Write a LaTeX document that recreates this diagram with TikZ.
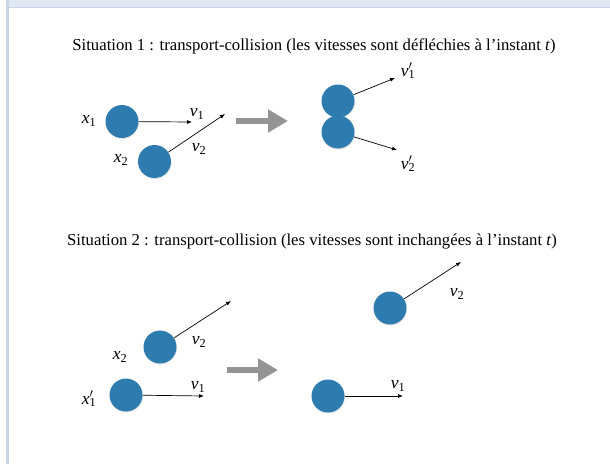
\documentclass[tikz,border=0pt]{standalone}
\usepackage{fontspec}
\setmainfont{Liberation Serif}
\usepackage{tikz}
\usetikzlibrary{arrows.meta,shadows}
\definecolor{ballblue}{HTML}{2E7BB0}
\definecolor{frameband}{HTML}{E1E7F1}
\definecolor{framestrip}{HTML}{C9D3E8}
\newcommand{\vlab}[1]{\textit{v}\textsubscript{#1}}
\newcommand{\vplab}[1]{\textit{v}\rlap{$'$}\textsubscript{#1}}
\newcommand{\xlab}[1]{\textit{x}\textsubscript{#1}}

\begin{document}
\begin{tikzpicture}[x=1pt, y=-1pt, line width=0.7pt,
  ball/.style={circle, fill=ballblue, minimum size=33pt, inner sep=0pt,
    drop shadow={opacity=0.18, shadow xshift=0.6pt, shadow yshift=-1.2pt}},
  lab/.style={font=\fontsize{17.5}{19}\selectfont, inner sep=0pt},
  titre/.style={font=\fontsize{16.7}{19}\selectfont, inner sep=0pt},
  vel/.style={-{Latex[length=5pt, width=4pt]}, black},
  bigarr/.style={line width=6pt, color=black!42, -{Triangle[length=20pt, width=22pt]}}]
\useasboundingbox (0,0) rectangle (610,464);
% ---- frame
\fill[frameband] (9,0) rectangle (610,7);
\fill[framestrip] (6,0) rectangle (9,464);
\draw[framestrip, line width=0.8pt] (9,7) -- (610,7);
% ---- situation 1
\node[titre] (t1) at (314,46) {Situation 1 : transport-collision (les vitesses sont défléchies à l’instant \textit{t})};
\node[ball] (b1) at (122,121.5) {};
\node[ball] (b2) at (154.5,161.5) {};
\coordinate (b1tip) at (192,122);
\coordinate (b2tip) at (225,114);
\draw[vel] (b1) -- (b1tip);
\draw[vel] (b2) -- (b2tip);
\node[lab] (lx1) at (89,121) {\xlab{1}};
\node[lab] (lx2) at (121,160) {\xlab{2}};
\node[lab] (lv1) at (197,114) {\vlab{1}};
\node[lab] (lv2) at (199,149) {\vlab{2}};
\coordinate (a1s) at (236,121);
\coordinate (a1e) at (288,121);
\draw[bigarr] (a1s) -- (a1e);
\node[ball] (b1p) at (338,101) {};
\node[ball] (b2p) at (338,132) {};
\coordinate (b1ptip) at (395,78);
\coordinate (b2ptip) at (397,150);
\draw[vel] (b1p) -- (b1ptip);
\draw[vel] (b2p) -- (b2ptip);
\node[lab] (lv1p) at (408,71) {\vplab{1}};
\node[lab] (lv2p) at (408,164) {\vplab{2}};
% ---- situation 2
\node[titre] (t2) at (312,241) {Situation 2 : transport-collision (les vitesses sont inchangées à l’instant \textit{t})};
\node[ball] (c2) at (160,347) {};
\node[ball] (c1) at (126,395) {};
\coordinate (c2tip) at (231,301);
\coordinate (c1tip) at (204,396);
\draw[vel] (c2) -- (c2tip);
\draw[vel] (c1) -- (c1tip);
\node[lab] (mx2) at (120,357) {\xlab{2}};
\node[lab] (mx1p) at (89,399) {\textit{x}\rlap{$'$}\textsubscript{1}};
\node[lab] (mv2) at (199,342) {\vlab{2}};
\node[lab] (mv1) at (198,387) {\vlab{1}};
\coordinate (a2s) at (227,370);
\coordinate (a2e) at (278,370);
\draw[bigarr] (a2s) -- (a2e);
\node[ball] (d2) at (390,308) {};
\node[ball] (d1) at (328,396) {};
\coordinate (d2tip) at (461,262);
\coordinate (d1tip) at (403,396);
\draw[vel] (d2) -- (d2tip);
\draw[vel] (d1) -- (d1tip);
\node[lab] (nv2) at (457,294) {\vlab{2}};
\node[lab] (nv1) at (398,386) {\vlab{1}};
\end{tikzpicture}
\end{document}
